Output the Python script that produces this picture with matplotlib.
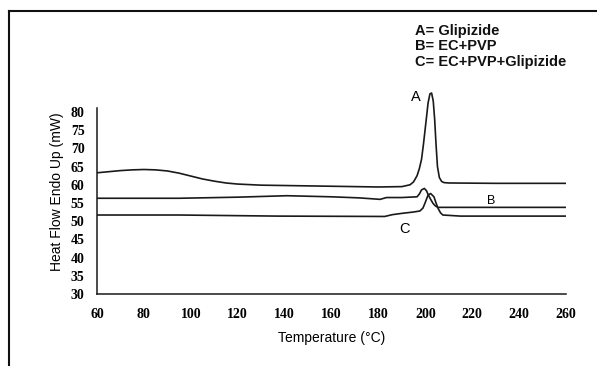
import matplotlib
matplotlib.use("Agg")
import matplotlib.pyplot as plt
from matplotlib.lines import Line2D

# DSC thermograms
temp_a = [60, 65, 70, 75, 80, 85, 90, 95, 100, 105, 110, 115, 120, 130, 140, 160, 180, 190,
          193.5, 195, 196.5, 197.5, 198.4, 199.2, 199.9, 200.6, 201.2, 202, 202.7, 203.4,
          204, 204.6, 205.2, 206, 207, 208, 210, 230, 260]
heat_a = [63.3, 63.6, 63.9, 64.1, 64.2, 64.1, 63.8, 63.2, 62.4, 61.6, 61.0, 60.5, 60.2, 59.9, 59.8, 59.6, 59.4, 59.5,
          60.0, 60.8, 62.5, 64.5, 67.0, 71.0, 75.0, 79.0, 82.5, 85.0, 85.2, 83.0,
          78.0, 71.0, 65.0, 62.0, 60.9, 60.6, 60.5, 60.4, 60.4]

temp_b = [60, 80, 95, 120, 141, 160, 172, 180.7, 183.5, 190, 196.5, 197.5, 198.4, 199.6, 200.5, 201.3,
          202.3, 203.3, 204.3, 205.4, 207, 230, 260]
heat_b = [56.3, 56.3, 56.3, 56.6, 57.0, 56.7, 56.4, 56.0, 56.5, 56.5, 56.7, 57.5, 58.6, 59.0, 58.4, 57.2,
          56.0, 54.9, 54.2, 53.8, 53.8, 53.8, 53.8]

temp_c = [60, 95, 137, 182.7, 186, 190.6, 194.7, 197.7, 199, 199.9, 201.2, 202.3, 203.7,
          204.6, 205.4, 206.5, 207.5, 215, 240, 260]
heat_c = [51.7, 51.7, 51.4, 51.3, 51.8, 52.2, 52.5, 52.8, 53.6, 55.0, 57.2, 57.6, 56.7,
          55.0, 53.6, 52.3, 51.7, 51.4, 51.4, 51.4]

x_ticks = list(range(60, 261, 20))
y_ticks = list(range(30, 81, 5))
legend_lines = ["A= Glipizide", "B= EC+PVP", "C= EC+PVP+Glipizide"]

fig = plt.figure(figsize=(5.97, 3.66), dpi=100)
ax = fig.add_axes([0.1625, 0.1967, 0.7855, 0.557])

lc = "#1a1a1a"
ax.plot(temp_a, heat_a, color=lc, lw=1.2)
ax.plot(temp_b, heat_b, color=lc, lw=1.2)
ax.plot(temp_c, heat_c, color=lc, lw=1.2)

ax.set_xlim(60, 260)
ax.set_ylim(30, 86)
ax.spines["top"].set_visible(False)
ax.spines["right"].set_visible(False)
ax.spines["left"].set_bounds(30, 81)
ax.spines["left"].set_color(lc)
ax.spines["bottom"].set_color(lc)
ax.spines["left"].set_linewidth(1.1)
ax.spines["bottom"].set_linewidth(1.1)

ax.set_xticks(x_ticks)
ax.set_yticks(y_ticks)
tick_font = dict(family="Liberation Serif", weight="bold", size=10)
ax.set_xticklabels([str(v) for v in x_ticks], **tick_font)
ax.set_yticklabels([str(v) for v in y_ticks], **tick_font)
ax.tick_params(axis="x", length=0, pad=10)
ax.tick_params(axis="y", length=0, pad=9)

ax.set_xlabel("Temperature (\u00b0C)", family="Liberation Sans", size=10, labelpad=7)
ax.set_ylabel("Heat Flow Endo Up (mW)", family="Liberation Sans", size=10, labelpad=5)

# curve letters
ax.text(196, 84, "A", family="Liberation Sans", size=10.5, ha="center", va="center")
ax.text(228, 55.6, "B", family="Liberation Sans", size=9, ha="center", va="center")
ax.text(191, 47.8, "C", family="Liberation Sans", size=10.5, ha="center", va="center")

# key in the top right corner
for i, s in enumerate(legend_lines):
    fig.text(415 / 597, 1 - (31 + i * 15.5) / 366, s, family="Liberation Sans",
             weight="bold", size=10.5, ha="left", va="center", color="#111111")

# scanned frame: left and top edge
fig.add_artist(Line2D([9 / 597, 9 / 597], [0, 1 - 11 / 366], color="#111111", lw=1.5))
fig.add_artist(Line2D([9 / 597, 1], [1 - 11 / 366, 1 - 11 / 366], color="#111111", lw=1.5))

fig.savefig("out.png", dpi=100)
